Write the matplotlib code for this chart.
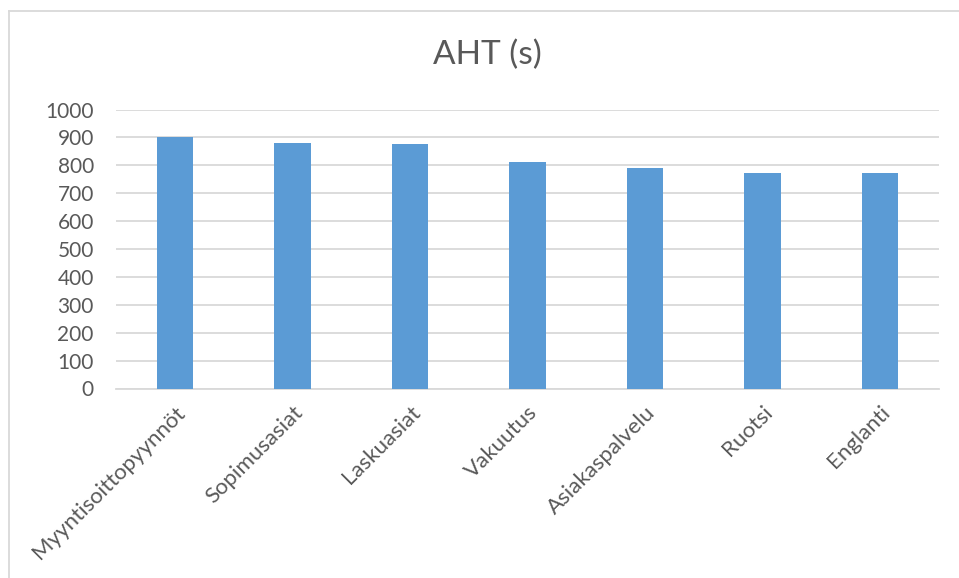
import matplotlib.pyplot as plt
from matplotlib.lines import Line2D

categories = ['Myyntisoittopyynnöt', 'Sopimusasiat', 'Laskuasiat', 'Vakuutus',
              'Asiakaspalvelu', 'Ruotsi', 'Englanti']
aht = [900, 880, 875, 812, 790, 773, 773]
yticks = list(range(0, 1001, 100))

txt = '#595959'
grid = '#D9D9D9'
plt.rcParams['font.family'] = ['Lato', 'DejaVu Sans']

fig = plt.figure(figsize=(9.59, 5.78), dpi=100)
ax = fig.add_axes([116/959, 1-388.5/578, (939-116)/959, (388.5-109.5)/578])

x = list(range(len(categories)))
ax.bar(x, aht, width=0.31, color='#5B9BD5', zorder=3)
ax.set_xlim(-0.5, len(categories)-0.5)
ax.set_ylim(0, 1000)
ax.set_yticks(yticks)
ax.yaxis.grid(True, color=grid, linewidth=1.3, zorder=0)
for s in ['top', 'right', 'left']:
    ax.spines[s].set_visible(False)
ax.spines['bottom'].set_color(grid)
ax.spines['bottom'].set_linewidth(1.3)
ax.tick_params(axis='y', length=0, pad=16, labelsize=15, labelcolor=txt)
ax.tick_params(axis='x', length=0, pad=10)
ax.set_xticks(x)
ax.set_xticklabels(categories, rotation=45, ha='right', va='top',
                   rotation_mode='anchor', fontsize=16, color=txt)

fig.text(487.5/959, 1-55/578, 'AHT (s)', ha='center', va='center',
         fontsize=24, color=txt)

# chart border (cut off at right and bottom)
fig.add_artist(Line2D([8.5/959, 8.5/959], [0, 1-10.5/578], color=grid, lw=1.3))
fig.add_artist(Line2D([8.5/959, 1], [1-10.5/578, 1-10.5/578], color=grid, lw=1.3))

fig.savefig('out.png', dpi=100)
